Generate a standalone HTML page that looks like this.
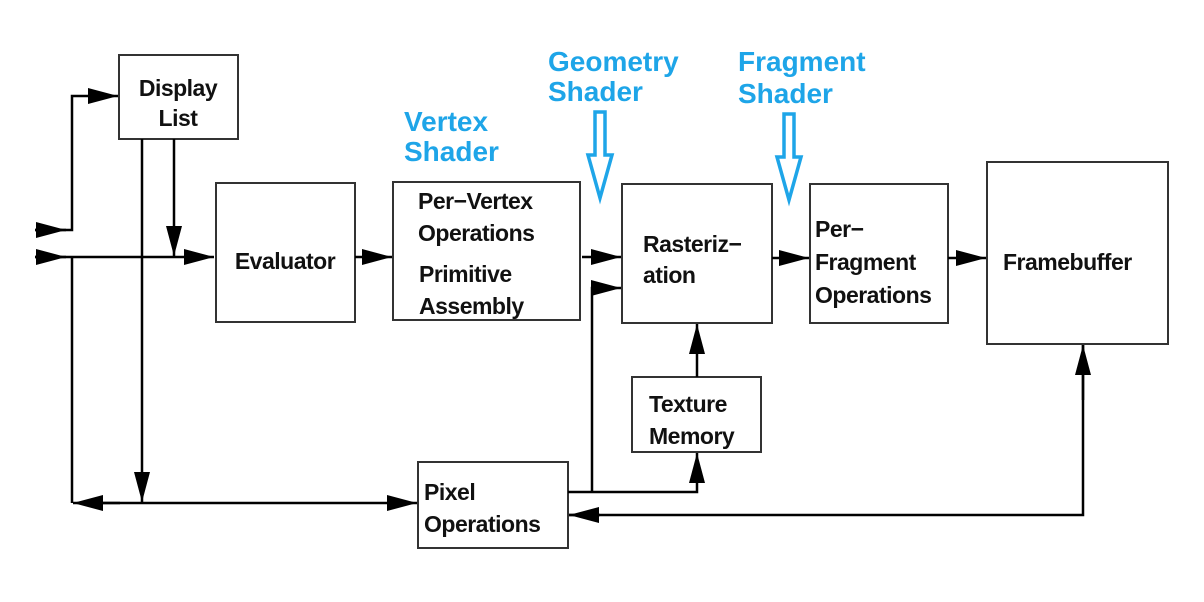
<!DOCTYPE html>
<html><head><meta charset="utf-8"><style>
body{margin:0;background:#fff;}
svg{display:block;}
.t{font-family:"Liberation Sans",Arial,sans-serif;font-weight:bold;font-size:23px;fill:#111;letter-spacing:-0.5px;}
.b{font-family:"Liberation Sans",Arial,sans-serif;font-weight:bold;font-size:28px;fill:#1ea5e8;}
</style></head><body>
<svg width="1204" height="602" viewBox="0 0 1204 602" xmlns="http://www.w3.org/2000/svg">
<defs>
<marker id="A" viewBox="0 0 10 10" markerWidth="30" markerHeight="16" refX="10" refY="5" orient="auto" markerUnits="userSpaceOnUse" preserveAspectRatio="none"><path d="M0,0 L10,5 L0,10 Z" fill="#000"/></marker>
</defs>
<g fill="#fff" stroke="#333" stroke-width="2">
<rect x="119" y="55" width="119" height="84"/>
<rect x="216" y="183" width="139" height="139"/>
<rect x="393" y="182" width="187" height="138"/>
<rect x="622" y="184" width="150" height="139"/>
<rect x="810" y="184" width="138" height="139"/>
<rect x="987" y="162" width="181" height="182"/>
<rect x="632" y="377" width="129" height="75"/>
<rect x="418" y="462" width="150" height="86"/>
</g>
<g stroke="#000" stroke-width="2.5" fill="none">
<line x1="35" y1="257" x2="214" y2="257" marker-end="url(#A)"/>
<line x1="35" y1="257" x2="66" y2="257" marker-end="url(#A)"/>
<polyline points="35,230 72,230 72,96 118,96" marker-end="url(#A)"/>
<line x1="35" y1="230" x2="66" y2="230" marker-end="url(#A)"/>
<line x1="72" y1="257" x2="72" y2="503"/>
<line x1="174" y1="139" x2="174" y2="256" marker-end="url(#A)"/>
<line x1="142" y1="139" x2="142" y2="502" marker-end="url(#A)"/>
<line x1="100" y1="503" x2="417" y2="503" marker-end="url(#A)"/>
<line x1="120" y1="503" x2="73" y2="503" marker-end="url(#A)"/>
<line x1="355" y1="257" x2="392" y2="257" marker-end="url(#A)"/>
<line x1="582" y1="257" x2="621" y2="257" marker-end="url(#A)"/>
<polyline points="592,492 592,288 621,288" marker-end="url(#A)"/>
<polyline points="568,492 697,492 697,453" marker-end="url(#A)"/>
<line x1="697" y1="377" x2="697" y2="324" marker-end="url(#A)"/>
<line x1="772" y1="258" x2="809" y2="258" marker-end="url(#A)"/>
<line x1="948" y1="258" x2="986" y2="258" marker-end="url(#A)"/>
<polyline points="1083,345 1083,515 569,515"/>
<line x1="1083" y1="400" x2="1083" y2="345" marker-end="url(#A)"/>
<line x1="600" y1="515" x2="569" y2="515" marker-end="url(#A)"/>
</g>
<g fill="#fff" stroke="#1ea5e8" stroke-width="3.5">
<path d="M595,112 L605,112 L605,155 L612,155 L600,198 L588,155 L595,155 Z"/>
<path d="M784,114 L794,114 L794,157 L801,157 L789,200 L777,157 L784,157 Z"/>
</g>
<text class="t" x="178" y="96" text-anchor="middle">Display</text>
<text class="t" x="178" y="126" text-anchor="middle">List</text>
<text class="t" x="285" y="269" text-anchor="middle">Evaluator</text>
<text class="t" x="418" y="209">Per−Vertex</text>
<text class="t" x="418" y="241">Operations</text>
<text class="t" x="419" y="282">Primitive</text>
<text class="t" x="419" y="314">Assembly</text>
<text class="t" x="643" y="252">Rasteriz−</text>
<text class="t" x="643" y="283">ation</text>
<text class="t" x="815" y="237">Per−</text>
<text class="t" x="815" y="270">Fragment</text>
<text class="t" x="815" y="303">Operations</text>
<text class="t" x="1003" y="270">Framebuffer</text>
<text class="t" x="649" y="412">Texture</text>
<text class="t" x="649" y="444">Memory</text>
<text class="t" x="424" y="500">Pixel</text>
<text class="t" x="424" y="532">Operations</text>
<text class="b" x="404" y="131">Vertex</text>
<text class="b" x="404" y="161">Shader</text>
<text class="b" x="548" y="71">Geometry</text>
<text class="b" x="548" y="101">Shader</text>
<text class="b" x="738" y="71">Fragment</text>
<text class="b" x="738" y="103">Shader</text>
</svg>
</body></html>
